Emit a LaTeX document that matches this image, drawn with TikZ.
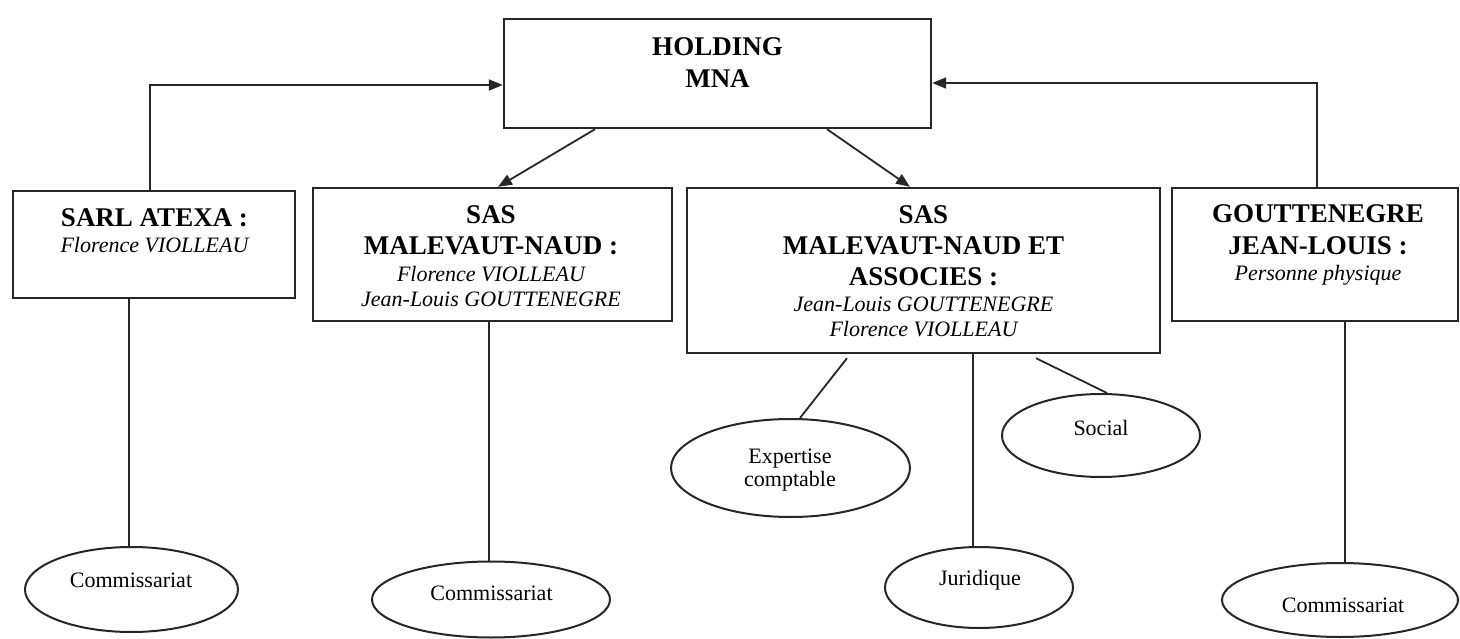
\documentclass[tikz,border=0pt]{standalone}
\usepackage{fontspec}
\setmainfont{Liberation Serif}
\usetikzlibrary{arrows.meta,shapes.geometric}
\begin{document}
\begin{tikzpicture}[x=1pt,y=-1pt,
  box/.style={draw=black!85,line width=2.4pt,inner sep=0pt},
  oval/.style={ellipse,draw=black!85,line width=2pt,inner sep=0pt},
  link/.style={draw=black!85,line width=1.8pt},
  arr/.style={link,-{Triangle[length=14pt,width=11pt]}},
  bt/.style={font=\fontsize{27}{32}\selectfont\bfseries,inner sep=0pt,anchor=base},
  it/.style={font=\fontsize{22}{26}\selectfont\itshape,inner sep=0pt,anchor=base},
  rt/.style={font=\fontsize{22}{26}\selectfont,inner sep=0pt,anchor=base}]
\useasboundingbox (0,0) rectangle (1460,639);
% boxes
\node[box,minimum width=427pt,minimum height=109pt] (hold) at (717.5,73.5) {};
\node[box,minimum width=282pt,minimum height=107pt] (sarl) at (154,244.5) {};
\node[box,minimum width=359pt,minimum height=133pt] (sasmn) at (492.5,254.5) {};
\node[box,minimum width=473pt,minimum height=165pt] (sasmna) at (923.5,270.5) {};
\node[box,minimum width=286pt,minimum height=133pt] (goutt) at (1315,254.5) {};
% box texts
\node[bt] (t1) at (717.5,56) {HOLDING};
\node[bt] (t2) at (717.5,88) {MNA};
\node[bt] (t3) at (154.5,227) {SARL ATEXA :};
\node[it] (t4) at (154.5,253) {Florence VIOLLEAU};
\node[bt] (t5) at (491,224) {SAS};
\node[bt] (t6) at (491,255) {MALEVAUT-NAUD :};
\node[it] (t7) at (491,282) {Florence VIOLLEAU};
\node[it] (t8) at (491,306) {Jean-Louis GOUTTENEGRE};
\node[bt] (t9) at (923.5,224) {SAS};
\node[bt] (t10) at (923.5,255) {MALEVAUT-NAUD ET};
\node[bt] (t11) at (923.5,286) {ASSOCIES :};
\node[it] (t12) at (923.5,312) {Jean-Louis GOUTTENEGRE};
\node[it] (t13) at (923.5,337) {Florence VIOLLEAU};
\node[bt] (t14) at (1318,223) {GOUTTENEGRE};
\node[bt] (t15) at (1318,255) {JEAN-LOUIS :};
\node[it] (t16) at (1318,280) {Personne physique};
% ellipses
\node[oval,minimum width=213pt,minimum height=85pt] (c1) at (131.5,589.5) {};
\node[oval,minimum width=238pt,minimum height=76pt] (c2) at (491,599.5) {};
\node[oval,minimum width=239pt,minimum height=98pt] (exp) at (790.5,468) {};
\node[oval,minimum width=188pt,minimum height=81pt] (jur) at (979,587.5) {};
\node[oval,minimum width=198pt,minimum height=83pt] (soc) at (1101,435.5) {};
\node[oval,minimum width=236pt,minimum height=74pt] (c4) at (1340,600) {};
% ellipse texts
\node[rt] (e1) at (131,587) {Commissariat};
\node[rt] (e2) at (491.5,600) {Commissariat};
\node[rt] (e3) at (790,463) {Expertise};
\node[rt] (e4) at (790,486) {comptable};
\node[rt] (e5) at (980,585) {Juridique};
\node[rt] (e6) at (1101,435) {Social};
\node[rt] (e7) at (1343,612) {Commissariat};
% connectors
\draw[arr] ([xshift=-4pt]sarl.north) |- ([yshift=-11.5pt]hold.west);
\draw[arr] ([xshift=2pt]goutt.north) |- ([yshift=-9.5pt]hold.east);
\draw[arr] ([xshift=-122.5pt]hold.south) -- ([xshift=5.5pt]sasmn.north);
\draw[arr] ([xshift=109.5pt]hold.south) -- ([xshift=-13.5pt]sasmna.north);
\draw[link] ([xshift=-2.5pt]c1.north) -- ([xshift=-2.5pt]c1.north |- sarl.south);
\draw[link] ([xshift=-2pt]c2.north) -- ([xshift=-2pt]c2.north |- sasmn.south);
\draw[link] ([xshift=-76.5pt,yshift=-4pt]sasmna.south) -- ([xshift=9.5pt]exp.north);
\draw[link] ([xshift=-6pt]jur.north) -- ([xshift=-6pt]jur.north |- sasmna.south);
\draw[link] ([xshift=112.5pt,yshift=-4pt]sasmna.south) -- ([xshift=6pt]soc.north);
\draw[link] ([xshift=5pt]c4.north) -- ([xshift=5pt]c4.north |- goutt.south);
\end{tikzpicture}
\end{document}
